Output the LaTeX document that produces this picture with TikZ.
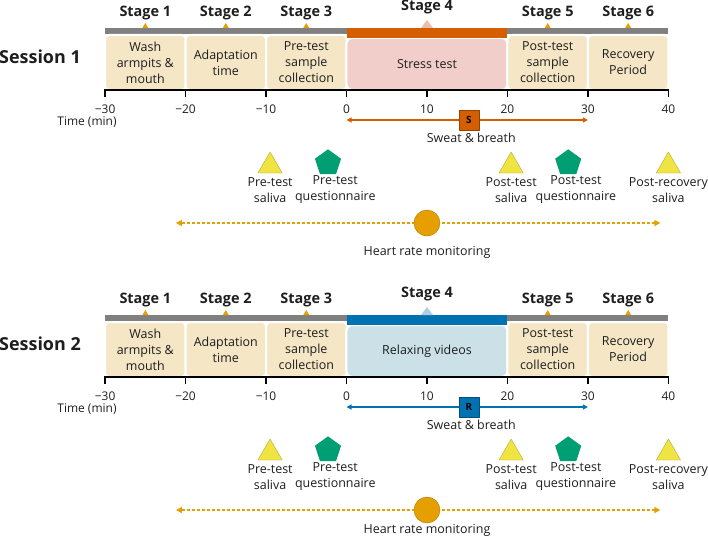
\documentclass[tikz,border=0pt]{standalone}
\usepackage{fontspec}
\setmainfont{Open Sans}
\usetikzlibrary{arrows.meta,shapes.geometric}
\definecolor{orng}{HTML}{D55E00}
\definecolor{blu}{HTML}{0072B2}
\definecolor{ylw}{HTML}{F0E442}
\definecolor{grn}{HTML}{009E73}
\definecolor{amb}{HTML}{E69F00}
\definecolor{beige}{HTML}{F5E6C6}
\definecolor{pnk}{HTML}{F2CECA}
\definecolor{lblu}{HTML}{CBE1E7}
\definecolor{txt}{HTML}{1E1E1E}
\begin{document}
\begin{tikzpicture}[x=8.047bp,y=1bp,line join=round,text=txt,font=\fontsize{12.5}{16}\selectfont,
	stg/.style={font=\fontsize{14.5}{16}\selectfont\bfseries},
	box/.style={fill=beige,draw=white,line width=2bp,rounded corners=4bp,minimum width=80.5bp,minimum height=55bp,align=center,inner sep=0pt},
	sal/.style={regular polygon,regular polygon sides=3,minimum size=28bp,inner sep=0pt,fill=ylw,draw=ylw!75!black,line width=.4bp},
	qst/.style={regular polygon,regular polygon sides=5,minimum size=27.4bp,inner sep=0pt,fill=grn},
	lbl/.style={align=center},
	ticklbl/.style={font=\fontsize{12}{14}\selectfont},
	Tsm/.tip={Triangle[width=5bp,length=5bp]},
	Tbg/.tip={Triangle[width=6bp,length=6bp]}]
	\useasboundingbox (-43.06,-540) rectangle (44.92,0);
	\foreach \ses/\dy/\barc/\boxc/\tsk/\lt/\hy in {1/0/orng/pnk/Stress test/S/-252,2/-287/blu/lblu/Relaxing videos/R/-243}{
	\begin{scope}[yshift=\dy bp]
		\node[font=\fontsize{18}{20}\selectfont\bfseries] (ses\ses) at (-38.09,-57) {Session \ses};
		\fill[gray] (-30,-28) rectangle (40,-34);
		\node[box] (wash\ses) at (-25,-62.5) {Wash\\armpits \&\\mouth};
		\node[box] (adap\ses) at (-15,-62.5) {Adaptation\\time};
		\node[box] (pre\ses) at (-5,-62.5) {Pre-test\\sample\\collection};
		\node[box,fill=\boxc,minimum width=161bp,minimum height=52bp,rounded corners=6bp] (task\ses) at (10,-64) {\tsk};
		\node[box] (post\ses) at (25,-62.5) {Post-test\\sample\\collection};
		\node[box] (rec\ses) at (35,-62.5) {Recovery\\Period};
		\fill[\barc] (0,-28) rectangle (20,-38);
		\foreach \c in {-25,-15,-5,25,35} \fill[amb] (\c-.37,-28) -- (\c,-23) -- (\c+.37,-28) -- cycle;
		\fill[\boxc!85!\barc] (9.25,-28) -- (10,-20) -- (10.75,-28) -- cycle;
		\foreach \c/\n in {-25/1,-15/2,-5/3,25/5,35/6} \node[stg] (st\n\ses) at (\c,-13) {Stage \n};
		\node[stg] (st4\ses) at (10,-7) {Stage 4};
		% time axis
		\draw[line width=1.3bp] (-30,-90) -- (40,-90);
		\foreach \t/\tl in {-30/−30,-20/−20,-10/−10,0/0,10/10,20/20,30/30,40/40}{
			\draw[line width=1.3bp] (\t,-89) -- (\t,-97);
			\node[ticklbl] (tk\ses\t) at (\t,-109) {\tl};}
		\node[ticklbl] (time\ses) at (-32.25,-122) {Time (min)};
		% sweat & breath
		\coordinate (sl\ses) at (0,-120);
		\coordinate (sr\ses) at (30,-120);
		\draw[\barc,line width=1.2bp,Tsm-Tsm] (sl\ses) -- (sr\ses);
		\node[fill=\barc,draw=\barc!70!black,minimum size=20bp,inner sep=0pt,text=black,font=\fontsize{10}{12}\selectfont\bfseries] (sb\ses) at (15.2,-120) {\lt};
		\node (sw\ses) at (15.5,-138) {Sweat \& breath};
		% samples
		\node[sal] (ps\ses) at (-9.5,-166) {};
		\node[lbl] (psl\ses) at (-9.5,-190) {Pre-test\\saliva};
		\node[qst] (pq\ses) at (-2.3,-163) {};
		\node[lbl] (pql\ses) at (-1.4,-190) {Pre-test\\questionnaire};
		\node[sal] (qs\ses) at (20.46,-166) {};
		\node[lbl] (qsl\ses) at (20.46,-190) {Post-test\\saliva};
		\node[qst] (qq\ses) at (27.55,-163) {};
		\node[lbl] (qql\ses) at (28.5,-190) {Post-test\\questionnaire};
		\node[sal] (rs\ses) at (40,-166) {};
		\node[lbl] (rsl\ses) at (40,-190) {Post-recovery\\saliva};
		% heart rate
		\coordinate (hl\ses) at (-21.2,-223);
		\coordinate (hr\ses) at (39,-223);
		\draw[amb,line width=1.5bp,dash pattern=on 3bp off 2bp,Tbg-Tbg] (hl\ses) -- (hr\ses);
		\node[circle,fill=amb,draw=amb!75!black,minimum size=26bp,inner sep=0pt] (hm\ses) at (10,-223) {};
		\node (hml\ses) at (10,\hy) {Heart rate monitoring};
	\end{scope}}
\end{tikzpicture}
\end{document}
